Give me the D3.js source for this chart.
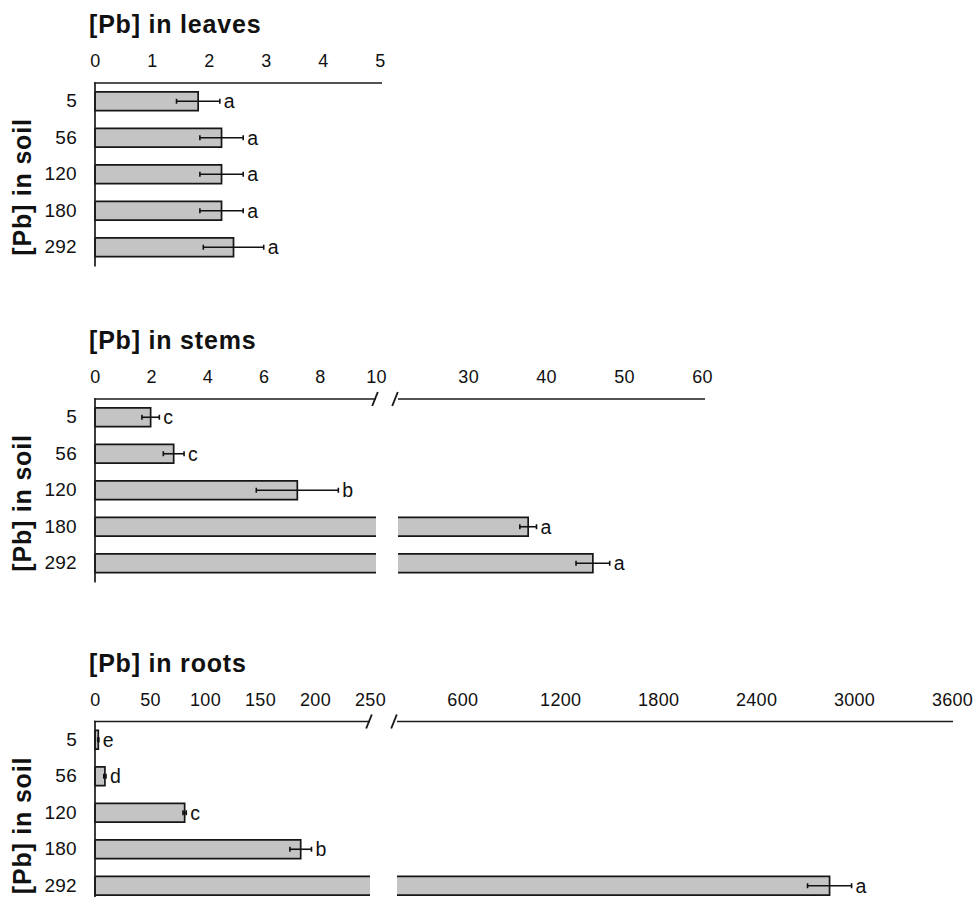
<!DOCTYPE html>
<html>
<head>
<meta charset="utf-8">
<script src="https://cdn.jsdelivr.net/npm/d3@7"></script>
<style>
  html, body { margin: 0; padding: 0; background: #fff; }
  svg { display: block; }
  text { font-family: "Liberation Sans", Arial, sans-serif; fill: #111; }
</style>
</head>
<body>
<svg id="chart" width="976" height="897"></svg>
<script>
// Soil Pb levels (categories, shared by all three panels)
const soilLevels = ["5", "56", "120", "180", "292"];

// Leaves
const leavesMean = [1.81, 2.22, 2.22, 2.22, 2.43];
const leavesErr = [0.38, 0.38, 0.38, 0.38, 0.53];
const leavesGroups = ["a", "a", "a", "a", "a"];
const leavesTicks = [0, 1, 2, 3, 4, 5];

// Stems (broken axis)
const stemsMean = [1.98, 2.8, 7.2, 37.7, 46.0];
const stemsErr = [0.31, 0.37, 1.46, 1.07, 2.16];
const stemsGroups = ["c", "c", "b", "a", "a"];
const stemsTicksLow = [0, 2, 4, 6, 8, 10];
const stemsTicksHigh = [30, 40, 50, 60];

// Roots (broken axis)
const rootsMean = [3, 9, 81.5, 187, 2850];
const rootsErr = [0.5, 1, 1.5, 9.8, 135];
const rootsGroups = ["e", "d", "c", "b", "a"];
const rootsTicksLow = [0, 50, 100, 150, 200, 250];
const rootsTicksHigh = [600, 1200, 1800, 2400, 3000, 3600];

const svg = d3.select("#chart");
const x0 = 95;          // left edge of every plot
const bandSpan = 182.5; // height of the category area
const fontStack = "\"Liberation Sans\", Arial, sans-serif";

const panels = [
  {
    title: "[Pb] in leaves", axisY: 83,
    mean: leavesMean, err: leavesErr, groups: leavesGroups,
    segments: [
      { scale: d3.scaleLinear().domain([0, 5]).range([x0, 380]), ticks: leavesTicks, lineEnd: 382 }
    ]
  },
  {
    title: "[Pb] in stems", axisY: 399,
    mean: stemsMean, err: stemsErr, groups: stemsGroups,
    segments: [
      { scale: d3.scaleLinear().domain([0, 10]).range([x0, 376]), ticks: stemsTicksLow },
      { scale: d3.scaleLinear().domain([21, 60]).range([398, 702]), ticks: stemsTicksHigh, lineEnd: 705 }
    ]
  },
  {
    title: "[Pb] in roots", axisY: 721.5,
    mean: rootsMean, err: rootsErr, groups: rootsGroups,
    segments: [
      { scale: d3.scaleLinear().domain([0, 250]).range([x0, 370]), ticks: rootsTicksLow },
      { scale: d3.scaleLinear().domain([200, 3600]).range([397, 952]), ticks: rootsTicksHigh, lineEnd: 953 }
    ]
  }
];

panels.forEach(p => {
  const g = svg.append("g");
  const y = d3.scaleBand().domain(soilLevels)
    .range([p.axisY, p.axisY + bandSpan])
    .paddingInner(0.49).paddingOuter(0.245);
  const bw = y.bandwidth();

  // which segment holds a value
  const segFor = v => {
    for (let i = p.segments.length - 1; i >= 0; i--) {
      if (v > p.segments[i].scale.domain()[0]) return p.segments[i];
    }
    return p.segments[0];
  };

  // bars, split across the axis break where needed
  const barG = g.append("g");
  soilLevels.forEach((lvl, i) => {
    const v = p.mean[i];
    const top = y(lvl), bot = top + bw;
    p.segments.forEach((s, si) => {
      const [d0, d1] = s.scale.domain();
      if (si > 0 && v <= d0) return;
      const xa = s.scale(d0);
      const xb = s.scale(Math.min(v, d1));
      const closed = v <= d1 || si === p.segments.length - 1;
      barG.append("rect")
        .attr("x", xa).attr("y", top)
        .attr("width", Math.max(0, xb - xa)).attr("height", bw)
        .attr("fill", "#c4c4c4");
      let d = `M${xa},${top}H${xb}`;
      if (closed) d += `V${bot}`; else d += `M${xb},${bot}`;
      d += `H${xa}`;
      if (si === 0) d += `V${top}`;
      barG.append("path").attr("d", d)
        .attr("fill", "none").attr("stroke", "#161616").attr("stroke-width", 1.7);
    });
  });

  // error bars and significance letters
  const errG = g.append("g").attr("stroke", "#111").attr("stroke-width", 1.6);
  soilLevels.forEach((lvl, i) => {
    const v = p.mean[i], e = p.err[i];
    const s = segFor(v).scale;
    const cy = y(lvl) + bw / 2;
    const xl = s(v - e), xr = s(v + e);
    errG.append("line").attr("x1", xl).attr("x2", xr).attr("y1", cy).attr("y2", cy);
    [xl, xr].forEach(xx => errG.append("line")
      .attr("x1", xx).attr("x2", xx).attr("y1", cy - 2.5).attr("y2", cy + 2.5));
    g.append("text")
      .attr("x", Math.max(xr, s(v)) + 4).attr("y", cy).attr("dy", "0.36em")
      .attr("font-size", 19.5)
      .text(p.groups[i]);
  });

  // top value axis, one per segment
  p.segments.forEach((s, si) => {
    const ax = g.append("g").attr("transform", `translate(0,${p.axisY})`)
      .call(d3.axisTop(s.scale).tickValues(s.ticks).tickFormat(d3.format("d"))
        .tickSize(0).tickPadding(16).tickSizeOuter(0));
    ax.select(".domain").remove();
    ax.selectAll("text")
      .attr("font-family", fontStack)
      .attr("font-size", 18).attr("letter-spacing", 0.3).attr("fill", "#111");
    const [r0, r1] = s.scale.range();
    const end = s.lineEnd || r1;
    g.append("line")
      .attr("x1", si === 0 ? r0 - 0.8 : r0).attr("x2", end)
      .attr("y1", p.axisY).attr("y2", p.axisY)
      .attr("stroke", "#1a1a1a").attr("stroke-width", 1.7);
  });

  // break marks
  if (p.segments.length > 1) {
    const marks = [p.segments[0].scale.range()[1] - 1, p.segments[1].scale.range()[0] - 3];
    marks.forEach(mx => g.append("line")
      .attr("x1", mx - 2.8).attr("y1", p.axisY + 7)
      .attr("x2", mx + 2.8).attr("y2", p.axisY - 7)
      .attr("stroke", "#1a1a1a").attr("stroke-width", 1.9));
  }

  // category axis
  const ay = g.append("g").attr("transform", `translate(${x0},0)`)
    .call(d3.axisLeft(y).tickSize(0).tickPadding(18));
  ay.select(".domain").remove();
  ay.selectAll("text")
    .attr("font-family", fontStack)
    .attr("font-size", 19).attr("letter-spacing", 0.3).attr("fill", "#111");
  g.append("line")
    .attr("x1", x0).attr("x2", x0)
    .attr("y1", p.axisY - 0.8).attr("y2", p.axisY + bandSpan + 1)
    .attr("stroke", "#1a1a1a").attr("stroke-width", 1.7);

  // titles
  g.append("text")
    .attr("x", 89).attr("y", p.axisY - 50)
    .attr("font-size", 25).attr("font-weight", "bold").attr("letter-spacing", 0.8)
    .text(p.title);
  g.append("text")
    .attr("transform", `translate(31,${p.axisY + 104}) rotate(-90)`)
    .attr("text-anchor", "middle")
    .attr("font-size", 25).attr("font-weight", "bold").attr("letter-spacing", 0.8)
    .text("[Pb] in soil");
});
</script>
</body>
</html>
